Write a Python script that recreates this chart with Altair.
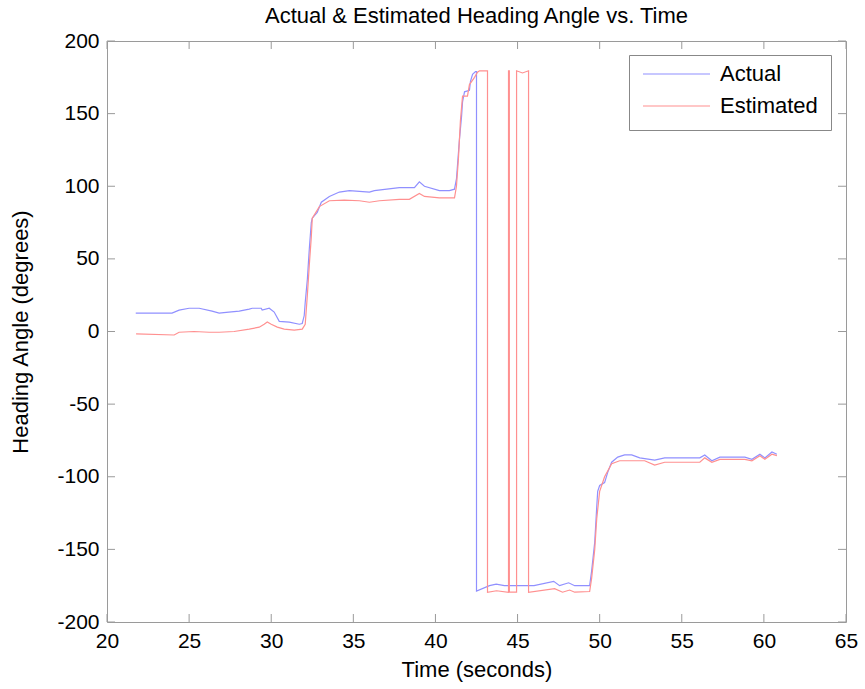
import altair as alt
import pandas as pd

# ---- data ----
time_actual = [21.75, 23.96, 24.39, 25.00, 25.61, 26.40, 26.83, 27.26, 28.05, 28.66,
               28.84, 29.39, 29.45, 29.88, 30.18, 30.49, 31.10, 31.71, 31.89, 32.01,
               32.07, 32.20, 32.32, 32.44, 32.50, 32.80, 33.05, 33.54, 34.15, 34.76,
               35.98, 36.28, 37.80, 38.41, 38.72, 39.02, 39.33, 40.24, 40.85, 41.16,
               41.28, 41.46, 41.59, 41.65, 41.77, 42.07, 42.13, 42.26, 42.44, 42.50,
               42.50, 43.29, 43.70, 44.20, 46.00, 47.20, 47.56, 48.11, 48.48, 49.39,
               49.51, 49.70, 49.82, 49.88, 50.00, 50.30, 50.49, 50.73, 51.10, 51.52,
               51.95, 52.44, 53.35, 53.96, 56.10, 56.40, 56.83, 57.32, 58.84, 59.27,
               59.76, 60.06, 60.49, 60.79]
heading_actual = [12.7, 12.7, 14.7, 16, 16, 14, 12.7, 13.2, 14, 15.4,
                  16, 16, 14.7, 16, 13.4, 7, 6.5, 5, 5.5, 11,
                  20, 36, 57, 75, 78, 82, 89, 93, 96, 97,
                  96, 97, 99, 99, 99, 103, 100, 97, 97, 98,
                  105, 132, 148, 158, 165, 166, 172, 177, 179, 179,
                  -178.7, -175, -174, -175, -175, -172, -175, -173, -175, -175,
                  -165, -145, -121, -110, -106, -104, -97, -90, -86.5, -85,
                  -85, -87, -88.5, -87, -87, -85, -89, -86.5, -86.5, -88,
                  -84.5, -87, -83, -84.5]

time_est = [21.77, 24.09, 24.39, 25.30, 26.22, 26.83, 27.74, 28.66, 29.27, 29.57,
            29.76, 30.00, 30.37, 30.79, 31.40, 31.89, 32.07, 32.20, 32.32, 32.44,
            32.50, 32.93, 33.54, 34.45, 35.37, 35.98, 36.59, 37.80, 38.41, 39.02,
            39.33, 40.24, 41.16, 41.28, 41.40, 41.52, 41.65, 41.95, 42.07, 42.38,
            42.56, 42.68, 43.17, 43.17, 43.72, 44.45, 44.45, 44.50, 44.50, 44.94,
            44.94, 45.30, 45.67, 45.67, 47.26, 47.74, 48.17, 48.48, 49.39, 49.51,
            49.70, 49.82, 50.00, 50.30, 50.73, 51.22, 52.13, 52.74, 53.35, 53.96,
            56.10, 56.40, 56.83, 57.32, 58.84, 59.27, 59.76, 60.06, 60.49, 60.79]
heading_est = [-1.7, -2.4, -0.5, 0, -0.5, -0.5, 0, 1.6, 3, 5,
               6.5, 5, 3, 1.6, 1, 1.6, 5, 25, 46, 65,
               78, 86, 90, 90.5, 90, 89, 90, 91, 91, 95,
               93, 92, 92, 100, 119, 145, 162, 162, 170, 175,
               178.5, 179.5, 179.5, -179.5, -178.5, -179.5, 179.5, 179.5, -179.5, -179.5,
               179.5, 178, 179.5, -179.5, -177, -179.5, -178, -179.5, -179, -170,
               -150, -129, -110, -100, -91, -89, -89, -89, -92, -90,
               -90, -87, -90, -88, -88, -89, -85.5, -88, -84.5, -85.5]

series_names = ["Actual", "Estimated"]
series_colors = ["#9090ff", "#ff9090"]
x_ticks = [20, 25, 30, 35, 40, 45, 50, 55, 60, 65]
y_ticks = [-200, -150, -100, -50, 0, 50, 100, 150, 200]

assert len(time_actual) == len(heading_actual)
assert len(time_est) == len(heading_est)

df = pd.concat([
    pd.DataFrame({"time": time_actual, "heading": heading_actual,
                  "series": "Actual", "idx": range(len(time_actual))}),
    pd.DataFrame({"time": time_est, "heading": heading_est,
                  "series": "Estimated", "idx": range(len(time_est))}),
], ignore_index=True)

W, H = 739, 581
FONT = "Liberation Sans"
TICK = 8
GRAY = "#9a9a9a"

xscale = alt.Scale(domain=[20, 65], nice=False, zero=False)
yscale = alt.Scale(domain=[-200, 200], nice=False, zero=False)

lines = alt.Chart(df).mark_line(strokeWidth=1.2, interpolate="linear").encode(
    x=alt.X("time:Q", scale=xscale,
            axis=alt.Axis(values=x_ticks, title="Time (seconds)", labelFlush=False,
                          labelOverlap=False, titlePadding=8)),
    y=alt.Y("heading:Q", scale=yscale,
            axis=alt.Axis(values=y_ticks, title="Heading Angle (degrees)",
                          labelFlush=False, labelOverlap=False,
                          labelExpr="toString(datum.value)",
                          titleX=-87, titleY=H / 2, titleAngle=270,
                          titleAlign="center", titleBaseline="middle")),
    color=alt.Color("series:N",
                    scale=alt.Scale(domain=series_names, range=series_colors),
                    legend=alt.Legend(title=None, orient="none", legendX=522, legendY=14,
                                      symbolType="stroke", symbolSize=4489,
                                      symbolStrokeWidth=1.2, clipHeight=12,
                                      rowPadding=10, padding=13, labelOffset=9,
                                      labelFont=FONT, labelFontSize=22,
                                      labelColor="black",
                                      strokeColor="#888", fillColor="white")),
    order="idx:Q",
)

xt = pd.DataFrame({"t": x_ticks})
yt = pd.DataFrame({"v": y_ticks})

tick_bottom = alt.Chart(xt).mark_rule(color=GRAY, strokeWidth=1).encode(
    x=alt.X("t:Q", scale=xscale), y=alt.value(H), y2=alt.value(H - TICK))
tick_top = alt.Chart(xt).mark_rule(color=GRAY, strokeWidth=1).encode(
    x=alt.X("t:Q", scale=xscale), y=alt.value(0), y2=alt.value(TICK))
tick_left = alt.Chart(yt).mark_rule(color=GRAY, strokeWidth=1).encode(
    y=alt.Y("v:Q", scale=yscale), x=alt.value(0), x2=alt.value(TICK))
tick_right = alt.Chart(yt).mark_rule(color=GRAY, strokeWidth=1).encode(
    y=alt.Y("v:Q", scale=yscale), x=alt.value(W), x2=alt.value(W - TICK))

chart = alt.layer(lines, tick_bottom, tick_top, tick_left, tick_right).properties(
    width=W, height=H,
    padding={"left": 107, "top": 41, "right": 19, "bottom": 67},
    autosize=alt.AutoSizeParams(type="none"),
    title=alt.TitleParams("Actual & Estimated Heading Angle vs. Time",
                          font=FONT, fontSize=22, fontWeight="normal",
                          color="black", anchor="middle", offset=2),
).configure_view(
    stroke=GRAY, strokeWidth=1
).configure_axis(
    domain=False, ticks=False, grid=False,
    labelFont=FONT, labelFontSize=21, labelColor="black", labelPadding=8,
    titleFont=FONT, titleFontSize=22, titleFontWeight="normal", titleColor="black",
)

chart.save("out.html", embed_options={"renderer": "svg", "actions": False})
